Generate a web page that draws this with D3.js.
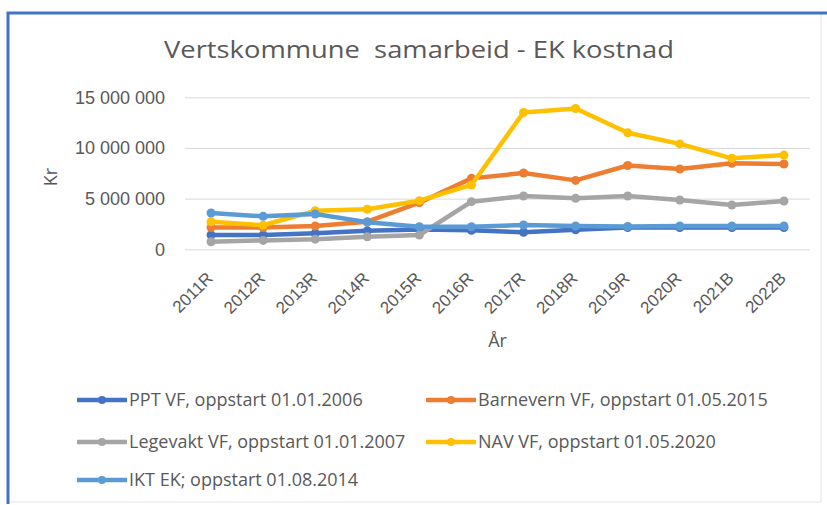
<!DOCTYPE html>
<html>
<head>
<meta charset="utf-8">
<script src="https://cdn.jsdelivr.net/npm/d3@7"></script>
<style>
  body { margin: 0; background: #fff; }
  svg { display: block; font-family: "Open Sans", "Noto Sans", sans-serif; }
</style>
</head>
<body>
<div id="chart"></div>
<script>
// data (kr)
const years = ["2011R", "2012R", "2013R", "2014R", "2015R", "2016R", "2017R", "2018R", "2019R", "2020R", "2021B", "2022B"];
const ppt = [1410000, 1410000, 1580000, 1820000, 1950000, 1870000, 1680000, 1920000, 2150000, 2150000, 2150000, 2150000];
const barnevern = [2150000, 2150000, 2300000, 2720000, 4600000, 7000000, 7530000, 6800000, 8270000, 7920000, 8490000, 8420000];
const legevakt = [750000, 880000, 1000000, 1240000, 1410000, 4700000, 5260000, 5030000, 5260000, 4870000, 4370000, 4770000];
const nav = [2720000, 2370000, 3800000, 3950000, 4800000, 6350000, 13500000, 13900000, 11500000, 10400000, 8980000, 9300000];
const ikt = [3580000, 3250000, 3480000, 2680000, 2230000, 2230000, 2400000, 2300000, 2250000, 2300000, 2300000, 2300000];
const yTicks = [0, 5000000, 10000000, 15000000];

const seriesNames = ["PPT VF, oppstart 01.01.2006", "Barnevern VF, oppstart 01.05.2015", "Legevakt VF, oppstart 01.01.2007", "NAV VF, oppstart 01.05.2020", "IKT EK; oppstart 01.08.2014"];
const seriesValues = [ppt, barnevern, legevakt, nav, ikt];
const colors = ["#4472C4", "#ED7D31", "#A5A5A5", "#FFC000", "#5B9BD5"];

const width = 827, height = 505;
const margin = {top: 97.3, right: 17, bottom: 255.7, left: 185};

const svg = d3.select("#chart")
  .append("svg")
  .attr("width", width)
  .attr("height", height);

// frame
svg.append("rect").attr("x", 8).attr("y", 13).attr("width", 813).attr("height", 489)
  .attr("fill", "#fff").attr("stroke", "#e4e4e4");
svg.append("path").attr("d", "M8,504 V13 H827").attr("fill", "none")
  .attr("stroke", "#4472C4").attr("stroke-width", 3);

const locale = d3.formatLocale({decimal: ",", thousands: " ", grouping: [3], currency: ["", ""]});
const fmt = locale.format(",");

const x = d3.scaleBand()
  .domain(years)
  .range([margin.left, width - margin.right]);

const y = d3.scaleLinear()
  .domain([0, 15000000])
  .range([height - margin.bottom, margin.top]);

// title
svg.append("text")
  .attr("x", 419).attr("y", 58)
  .attr("text-anchor", "middle")
  .attr("font-size", 24)
  .attr("fill", "#595959")
  .attr("textLength", 510)
  .attr("lengthAdjust", "spacingAndGlyphs")
  .style("white-space", "pre")
  .text("Vertskommune  samarbeid - EK kostnad");

// grid + y axis
const yAxis = svg.append("g")
  .attr("transform", `translate(${margin.left},0)`)
  .call(d3.axisLeft(y).tickValues(yTicks).tickFormat(fmt)
    .tickSize(-(width - margin.left - margin.right)).tickPadding(20));
yAxis.select(".domain").remove();
yAxis.selectAll(".tick line").attr("stroke", "#d9d9d9");
yAxis.selectAll(".tick text").attr("fill", "#595959").attr("font-size", 18);

// x axis
const xAxis = svg.append("g")
  .attr("transform", `translate(0,${y(0)})`)
  .call(d3.axisBottom(x).tickSize(0));
xAxis.select(".domain").remove();
xAxis.selectAll(".tick text")
  .attr("fill", "#595959")
  .attr("font-size", 17)
  .attr("text-anchor", "end")
  .attr("x", 0).attr("y", 0)
  .attr("dx", 0).attr("dy", 0)
  .attr("transform", "translate(3,30) rotate(-45)");

// axis titles
svg.append("text")
  .attr("x", (margin.left + width - margin.right) / 2).attr("y", 347)
  .attr("text-anchor", "middle").attr("font-size", 18).attr("fill", "#595959")
  .text("År");
svg.append("text")
  .attr("transform", "translate(57,177) rotate(-90)")
  .attr("text-anchor", "middle").attr("font-size", 18).attr("fill", "#595959")
  .text("Kr");

// lines
const line = d3.line()
  .x((d, i) => x(years[i]) + x.bandwidth() / 2)
  .y(d => y(d));

seriesValues.forEach((vals, s) => {
  const g = svg.append("g");
  g.append("path")
    .datum(vals)
    .attr("d", line)
    .attr("fill", "none")
    .attr("stroke", colors[s])
    .attr("stroke-width", 4.5)
    .attr("stroke-linejoin", "round");
  g.selectAll("circle")
    .data(vals)
    .enter()
    .append("circle")
    .attr("cx", (d, i) => x(years[i]) + x.bandwidth() / 2)
    .attr("cy", d => y(d))
    .attr("r", 4.5)
    .attr("fill", colors[s]);
});

// legend
const legPos = [[77, 400], [426, 400], [77, 442], [426, 442], [77, 480]];
seriesNames.forEach((name, s) => {
  const [lx, ly] = legPos[s];
  const g = svg.append("g").attr("transform", `translate(${lx},${ly})`);
  g.append("line").attr("x1", 0).attr("x2", 50).attr("y1", 0).attr("y2", 0)
    .attr("stroke", colors[s]).attr("stroke-width", 4.5);
  g.append("circle").attr("cx", 25).attr("cy", 0).attr("r", 4).attr("fill", colors[s]);
  g.append("text").attr("x", 52).attr("y", 6).attr("font-size", 18)
    .attr("fill", "#595959").text(name);
});
</script>
</body>
</html>
